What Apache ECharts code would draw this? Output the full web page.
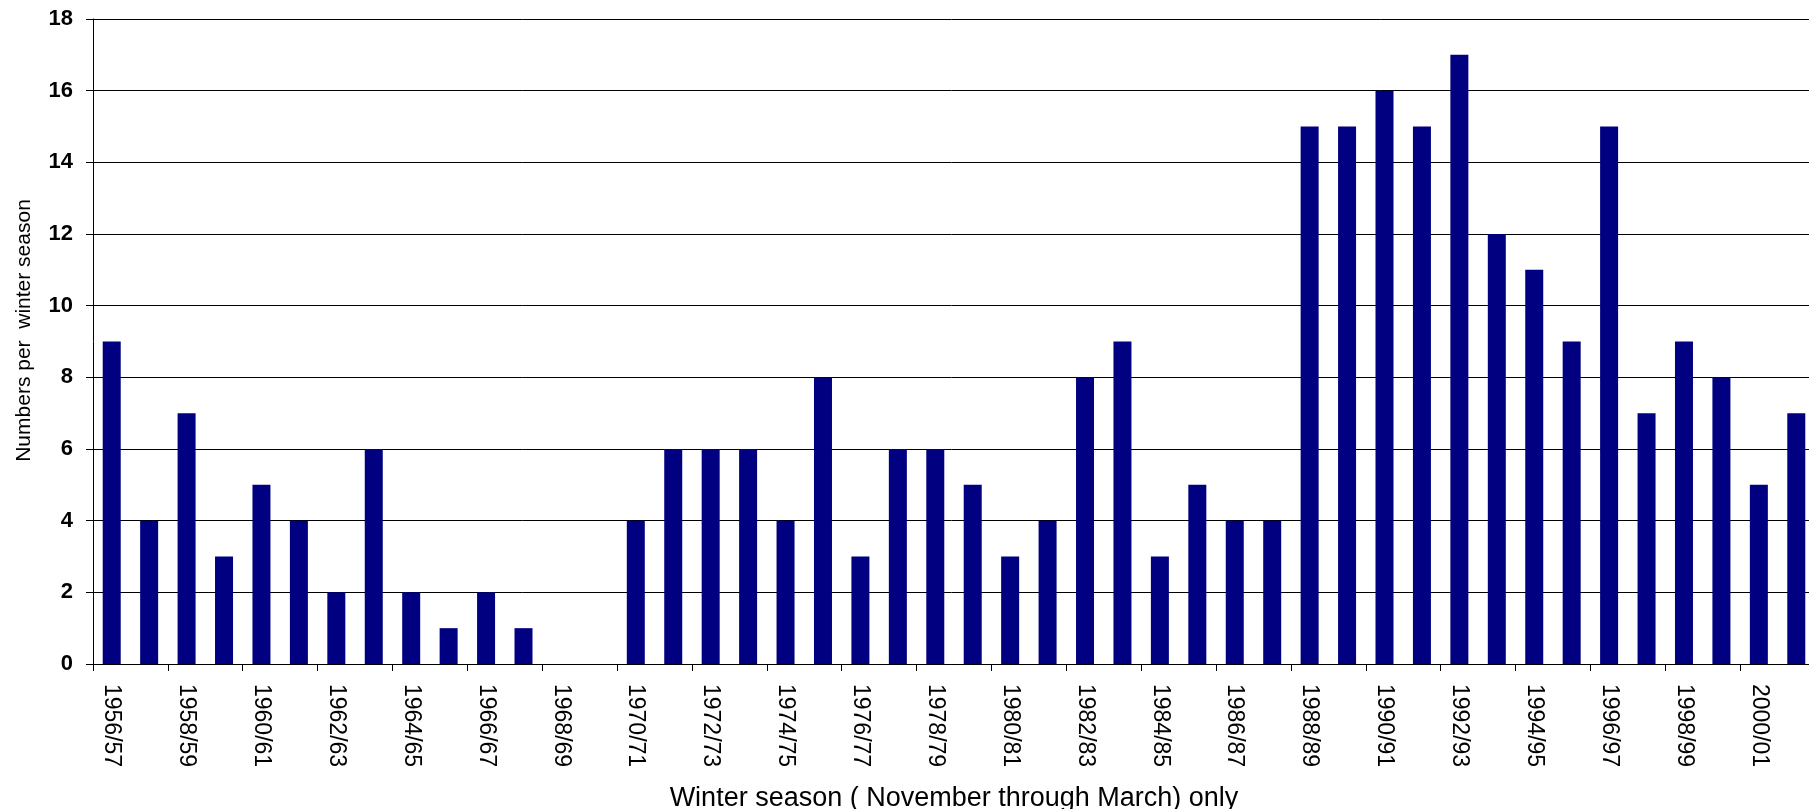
<!DOCTYPE html>
<html>
<head>
<meta charset="utf-8">
<script src="https://cdn.jsdelivr.net/npm/echarts@6/dist/echarts.min.js"></script>
<style>
html,body{margin:0;padding:0;background:#fff;}
#chart{width:1809px;height:809px;}
</style>
</head>
<body>
<div id="chart"></div>
<script>
const seasons = ['1956/57','1957/58','1958/59','1959/60','1960/61','1961/62','1962/63','1963/64','1964/65','1965/66',
  '1966/67','1967/68','1968/69','1969/70','1970/71','1971/72','1972/73','1973/74','1974/75','1975/76',
  '1976/77','1977/78','1978/79','1979/80','1980/81','1981/82','1982/83','1983/84','1984/85','1985/86',
  '1986/87','1987/88','1988/89','1989/90','1990/91','1991/92','1992/93','1993/94','1994/95','1995/96',
  '1996/97','1997/98','1998/99','1999/00','2000/01','2001/02'];
const counts = [9,4,7,3,5,4,2,6,2,1,
  2,1,0,0,4,6,6,6,4,8,
  3,6,6,5,3,4,8,9,3,5,
  4,4,15,15,16,15,17,12,11,9,
  15,7,9,8,5,7];
const yTicks = {min:0, max:18, interval:2};
const xName = 'Winter season ( November through March) only';
const yName = 'Numbers per  winter season';

const chart = echarts.init(document.getElementById('chart'), null, {renderer:'canvas'});
const font = '"Liberation Sans", Arial, sans-serif';
chart.setOption({
  animation:false,
  backgroundColor:'#ffffff',
  grid:{left:93, top:19, width:1722, height:645, containLabel:false, outerBoundsMode:'none'},
  xAxis:{
    type:'category',
    data:seasons,
    boundaryGap:true,
    name:xName,
    nameLocation:'middle',
    nameGap:121,
    nameTextStyle:{fontFamily:font, fontSize:27, color:'#000'},
    axisLine:{show:true, lineStyle:{color:'#000', width:1}},
    axisTick:{show:true, interval:1, length:7, lineStyle:{color:'#000'}},
    axisLabel:{interval:1, rotate:-90, margin:20, fontFamily:font, fontSize:23, color:'#000'},
    splitLine:{show:false}
  },
  yAxis:{
    type:'value',
    min:yTicks.min, max:yTicks.max, interval:yTicks.interval,
    name:yName,
    nameLocation:'middle',
    nameGap:58,
    nameTextStyle:{fontFamily:font, fontSize:21, color:'#000', padding:[0,0,0,22]},
    axisLine:{show:true, lineStyle:{color:'#000', width:1}},
    axisTick:{show:true, length:7, lineStyle:{color:'#000'}},
    axisLabel:{margin:20, fontFamily:font, fontSize:22, fontWeight:'bold', color:'#000'},
    splitLine:{show:true, lineStyle:{color:'#000', width:1}}
  },
  series:[{
    type:'bar',
    data:counts,
    barWidth:18,
    itemStyle:{color:'#000080'}
  }]
});
</script>
</body>
</html>
